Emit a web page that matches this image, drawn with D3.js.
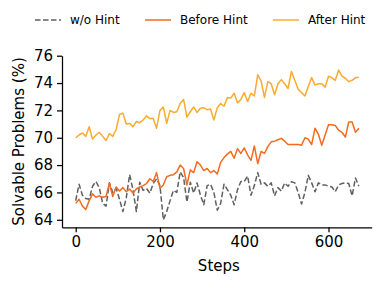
<!DOCTYPE html>
<html>
<head>
<meta charset="utf-8">
<script src="https://cdn.jsdelivr.net/npm/d3@7"></script>
<style>
    body { margin: 0; background: #fff; }
    text { font-family: "DejaVu Sans", sans-serif; fill: #000; }
</style>
</head>
<body>
<script>
// one point every 8 steps, 0..672
var stepSize = 8;
var seriesNames = ["w/o Hint", "Before Hint", "After Hint"];
var seriesColors = ["#606060", "#f26b21", "#f8ab2e"];
var xTicks = [0, 200, 400, 600];
var yTicks = [64, 66, 68, 70, 72, 74, 76];

var woHint = [
    65.4, 66.6, 65.8, 65.55, 65.5, 66.45, 66.8, 66.35, 65.2, 65.0,
    66.7, 66.0, 66.3, 65.5, 64.6, 65.6, 67.3, 66.2, 64.6, 66.75,
    66.15, 66.3, 65.95, 66.65, 67.0, 66.5, 64.0, 64.6, 65.4, 66.15,
    66.0, 67.5, 67.1, 65.3, 66.75, 65.95, 66.7, 65.8, 65.1, 66.5,
    66.6, 66.0, 64.7, 65.2, 66.6, 66.2, 65.8, 65.1, 66.2, 66.8,
    66.8, 67.2, 65.8, 66.5, 67.45, 66.6, 66.7, 66.45, 66.7, 65.75,
    66.35, 66.1, 66.7, 66.45, 66.78, 66.7, 66.0, 65.15, 66.0, 67.25,
    66.7, 66.05, 66.7, 66.55, 66.55, 66.45, 66.4, 66.05, 66.55, 66.65,
    66.7, 66.65, 65.75, 67.05, 66.45
];
var beforeHint = [
    65.2, 65.5, 65.0, 64.75, 65.4, 65.9, 65.65, 65.75, 65.65, 65.7,
    66.65, 65.7, 66.4, 66.1, 66.35, 66.05, 66.25, 65.95, 66.25, 66.4,
    66.5, 66.65, 67.0, 66.8, 67.45, 66.3, 66.55, 67.15, 67.25, 67.3,
    67.5, 68.0, 67.75, 66.55, 67.65, 67.45, 68.25, 68.0, 67.6, 67.75,
    67.45, 67.6, 67.35, 68.2, 68.55, 68.8, 69.0, 68.5, 69.2, 68.85,
    69.25, 68.75, 68.35, 69.4, 68.1, 69.0, 68.85, 69.35, 69.7, 69.75,
    69.85, 69.95, 69.75, 69.5, 69.5, 69.5, 69.5, 69.45, 70.0, 69.9,
    69.5, 70.7, 70.25, 69.45, 70.2, 70.95, 70.95, 70.9, 70.55, 70.4,
    70.05, 71.15, 71.15, 70.4, 70.7
];
var afterHint = [
    70.0, 70.2, 70.35, 70.1, 70.8, 69.9, 70.2, 70.4, 70.1, 69.8,
    70.3, 70.1, 70.6, 71.7, 71.8, 71.0, 71.05, 70.8, 71.2, 71.1,
    71.3, 71.6, 71.4, 71.4, 70.7, 72.0, 72.25, 71.05, 72.0, 71.85,
    71.9, 72.5, 72.8, 71.5, 71.9, 72.25, 71.85, 72.15, 72.2, 72.05,
    72.1, 71.3, 72.2, 72.5, 72.3, 72.95, 72.9, 73.25, 72.55, 72.8,
    73.3, 72.65, 73.25, 73.05, 74.6, 74.15, 72.95, 74.1, 73.95, 73.15,
    73.95, 74.25, 73.95, 73.6, 74.85, 74.2, 73.55, 73.3, 73.05, 73.75,
    74.4, 73.85, 73.95, 73.95, 73.7, 74.5, 74.4, 74.2, 74.95, 74.5,
    74.35, 74.1, 74.2, 74.4, 74.4
];

(function(){

    var w = 384;
    var h = 285;
    var svg = d3.select("body")
        .append("svg")
        .attr("width", w)
        .attr("height", h);

    var x = d3.scaleLinear().domain([-32.5, 702.5]).range([62, 371.7]);
    var y = d3.scaleLinear().domain([63.45, 76]).range([227.3, 55.7]);

    drawAxes();
    drawLines();
    drawLegend();

    function drawAxes(){
        var xAxis = svg.append("g")
            .attr("transform", "translate(0," + y.range()[0] + ")")
            .call(d3.axisBottom(x).tickValues(xTicks).tickSize(5).tickSizeOuter(0).tickPadding(4));
        var yAxis = svg.append("g")
            .attr("transform", "translate(" + x.range()[0] + ",0)")
            .call(d3.axisLeft(y).tickValues(yTicks).tickSize(5).tickSizeOuter(0).tickPadding(4));

        [xAxis, yAxis].forEach(function(g){
            g.attr("font-family", null).attr("font-size", null);
            g.selectAll("text").style("font-size", "15px");
            g.selectAll("line, path").attr("stroke", "#000").attr("stroke-width", 1.25);
        });

        svg.append("text")
            .attr("x", (x.range()[0] + x.range()[1]) / 2 + 2)
            .attr("y", 271)
            .attr("text-anchor", "middle")
            .style("font-size", "15px")
            .text("Steps");

        svg.append("text")
            .attr("transform", "translate(24," + (y.range()[0] + y.range()[1]) / 2 + ") rotate(-90)")
            .attr("text-anchor", "middle")
            .style("font-size", "15px")
            .text("Solvable Problems (%)");
    }

    function drawLines(){
        var allSeries = [woHint, beforeHint, afterHint];
        var line = d3.line()
            .x(function(d, i) { return x(i * stepSize); })
            .y(function(d) { return y(d); });

        svg.selectAll("path.series")
            .data(allSeries)
            .enter()
            .append("path")
            .attr("class", "series")
            .attr("d", line)
            .attr("fill", "none")
            .attr("stroke", function(d, i) { return seriesColors[i]; })
            .attr("stroke-width", 1.5)
            .attr("stroke-linejoin", "round")
            .attr("stroke-dasharray", function(d, i) { return i === 0 ? "5.5,2.5" : null; });
    }

    function drawLegend(){
        var lineX = [35, 145, 273];   // start of each legend swatch
        var legendY = 20;
        var items = svg.selectAll("g.legend")
            .data(seriesNames)
            .enter()
            .append("g")
            .attr("class", "legend")
            .attr("transform", function(d, i) { return "translate(" + lineX[i] + "," + legendY + ")"; });

        items.append("line")
            .attr("x1", 0)
            .attr("x2", 26)
            .attr("stroke", function(d, i) { return seriesColors[i]; })
            .attr("stroke-width", 1.5)
            .attr("stroke-dasharray", function(d, i) { return i === 0 ? "5.5,2.5" : null; });

        items.append("text")
            .attr("x", 35)
            .attr("dy", "0.36em")
            .style("font-size", "12px")
            .text(function(d) { return d; });
    }
}());
</script>
</body>
</html>
